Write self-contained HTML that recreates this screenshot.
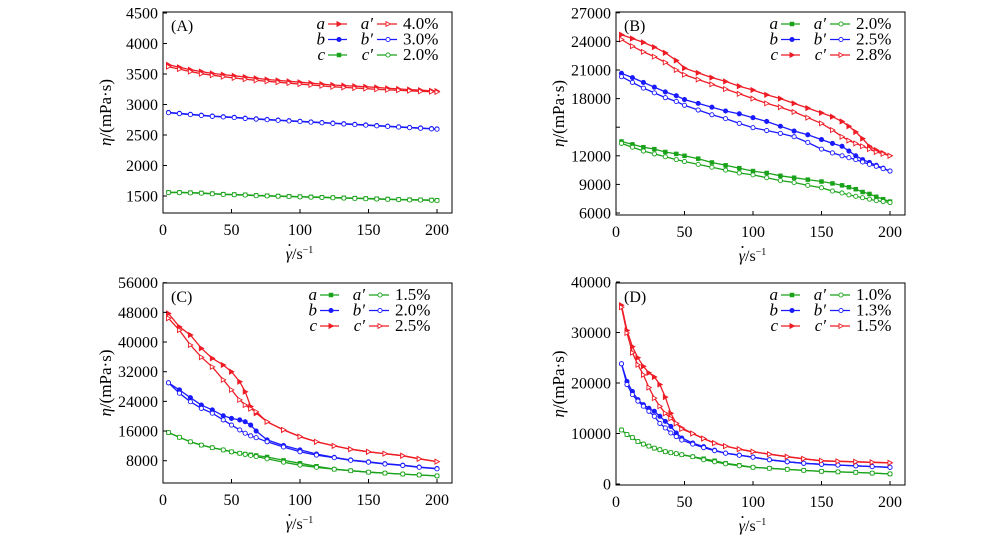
<!DOCTYPE html>
<html><head><meta charset="utf-8"><style>
html,body{margin:0;padding:0;background:#fff;}
svg{display:block;font-family:"Liberation Serif",serif;}
</style></head><body>
<svg id="fig" width="1000" height="540" viewBox="0 0 1000 540" xmlns="http://www.w3.org/2000/svg"></svg>
<script>
// ---- data ----
const xA = [4,12,20,28,36,44,52,60,68,76,84,92,100,108,116,124,132,140,148,156,164,172,180,188,196,200];
const A_a  = [3650,3610,3570,3540,3510,3490,3470,3450,3430,3410,3395,3380,3365,3350,3335,3320,3310,3300,3290,3280,3265,3255,3245,3235,3225,3220];
const A_a2 = [3620,3580,3540,3505,3480,3455,3435,3415,3395,3380,3365,3350,3335,3320,3305,3290,3280,3270,3260,3250,3240,3235,3225,3215,3210,3205];
const A_b  = [2870,2855,2840,2825,2810,2800,2790,2775,2765,2755,2745,2735,2725,2715,2705,2695,2685,2675,2665,2655,2645,2635,2625,2615,2605,2600];
const A_b2 = [2865,2850,2835,2820,2805,2795,2785,2770,2760,2750,2740,2730,2720,2710,2700,2690,2680,2670,2660,2650,2640,2630,2620,2610,2600,2595];
const A_c  = [1560,1560,1555,1550,1540,1530,1525,1520,1510,1505,1500,1495,1490,1485,1480,1475,1470,1465,1460,1455,1450,1445,1440,1438,1435,1430];
const A_c2 = [1555,1555,1550,1545,1535,1525,1520,1515,1505,1500,1495,1490,1485,1480,1475,1470,1465,1460,1455,1450,1445,1440,1435,1433,1430,1425];
const A_ticks = [1500,2000,2500,3000,3500,4000,4500];

const xB = [4,12,20,28,36,44,50,60,70,80,90,100,110,120,130,140,150,158,165,170,175,180,185,190,195,200];
const B_a  = [13500,13200,12900,12700,12400,12200,12000,11700,11300,11000,10700,10400,10200,9900,9700,9500,9300,9100,8900,8700,8500,8200,8000,7700,7450,7200];
const B_a2 = [13300,12900,12500,12200,11900,11600,11400,11100,10800,10500,10200,10000,9700,9400,9200,8900,8650,8300,8100,7900,7750,7600,7450,7300,7200,7100];
const B_b  = [20650,20200,19700,19200,18700,18300,17900,17500,17100,16700,16400,16000,15600,15100,14600,14200,13700,13300,13000,12500,12000,11600,11300,11000,10700,10400];
const B_b2 = [20300,19700,19100,18600,18100,17700,17300,16800,16300,15900,15400,14950,14650,14350,14000,13400,12700,12300,12000,11800,11600,11350,11100,10900,10650,10400];
const B_c  = [24700,24300,23900,23400,22800,22000,21200,20700,20200,19800,19300,18900,18400,18000,17500,17000,16500,16100,15600,15100,14500,13800,13000,12600,12300,12000];
const B_c2 = [24200,23500,22900,22400,21800,21000,20500,20000,19500,19000,18500,18000,17500,17100,16600,16000,15400,14700,14000,13600,13300,13000,12700,12400,12200,12000];
const B_ticks = [6000,9000,12000,15000,18000,21000,24000,27000];
const B_labels = [6000,9000,12000,18000,21000,24000,27000];

const xC = [4,12,20,28,36,44,50,56,60,64,68,76,88,100,112,125,137,150,162,175,187,200];
const C_a  = [15600,14300,13100,12200,11500,10900,10400,10000,9800,9600,9400,9000,8100,7300,6500,5700,5300,4900,4650,4400,4150,3900];
const C_a2 = [15600,14300,13100,12200,11500,10900,10400,10000,9700,9400,9100,8500,7600,6800,6200,5700,5300,4900,4650,4400,4150,3900];
const C_b  = [29000,27100,25000,23000,21700,20100,19400,19000,18500,17600,16000,13600,12100,10900,9800,8900,8200,7700,7200,6800,6300,5900];
const C_b2 = [29000,26200,23900,22100,20800,19000,17600,16300,15400,14700,14200,13100,11700,10400,9500,8800,8100,7600,7100,6700,6200,5800];
const C_c  = [47700,44100,41900,38300,35600,33800,32000,29300,26600,22600,20800,18500,16300,14500,13100,12000,11100,10400,9900,9350,8500,7750];
const C_c2 = [46400,43200,39200,35900,33300,29800,27100,24400,23000,22000,21200,18500,16300,14500,13100,12000,11100,10400,9900,9350,8500,7750];
const C_ticks = [8000,16000,24000,32000,40000,48000,56000];

const xD = [4,8,12,16,20,24,28,32,36,40,44,48,56,64,72,80,90,100,112,125,137,150,162,175,187,200];
const D_a  = [10700,9800,9200,8400,7900,7500,7100,6800,6400,6200,6000,5800,5400,5000,4600,4100,3700,3300,3100,2900,2700,2500,2400,2300,2150,2000];
const D_a2 = [10700,9800,9200,8400,7900,7500,7100,6800,6400,6200,6000,5800,5400,4800,4400,4000,3600,3300,3100,2900,2700,2500,2400,2300,2150,2000];
const D_b  = [23800,20300,18300,16700,15700,15000,14400,13400,12400,11400,10100,9100,8100,7400,6700,6100,5700,5300,4800,4400,4100,3900,3750,3600,3450,3300];
const D_b2 = [23800,19700,17700,16400,15400,14400,13400,12000,11100,10100,9400,8700,7900,7200,6600,6100,5700,5300,4800,4400,4100,3900,3750,3600,3450,3300];
const D_c  = [35400,30400,27200,25000,23300,22000,21200,19700,17200,14000,12000,11100,10000,9000,8100,7500,6900,6400,5900,5400,5000,4600,4500,4400,4300,4200];
const D_c2 = [35000,29900,26000,23600,21600,19100,17000,15400,14000,13000,12000,10900,10000,9000,8100,7500,6900,6400,5900,5400,5000,4600,4500,4400,4300,4200];
const D_ticks = [0,10000,20000,30000,40000];

const xTicks = [0,50,100,150,200];

const RED="#ee1c25", BLUE="#1a1aff", GREEN="#1aa31a";
const NS="http://www.w3.org/2000/svg";
const svg=document.getElementById('fig');
function mk(tag,attrs,parent){const e=document.createElementNS(NS,tag);for(const k in attrs)e.setAttribute(k,attrs[k]);(parent||svg).appendChild(e);return e;}

function marker(g,shape,filled,color,x,y){
  let m;
  const fill=filled?color:"#fff";
  if(shape==="sq") m=mk('rect',{x:x-1.8,y:y-1.8,width:3.6,height:3.6,fill:fill,stroke:color,'stroke-width':0.9},g);
  else if(shape==="ci") m=mk('circle',{cx:x,cy:y,r:2.1,fill:fill,stroke:color,'stroke-width':0.9},g);
  else m=mk('polygon',{points:`${x-2},${y-2.4} ${x+2.4},${y} ${x-2},${y+2.4}`,fill:fill,stroke:color,'stroke-width':0.9},g);
  return m;
}

function panel(p){
  const g=mk('g',{});
  
  
  const X=v=>p.L+(v-0)*p.xs;
  const Y=v=>p.y0px-(v-p.y0)*p.ys;
  p.series.forEach(s=>{
    const sg=mk('g',{},g);
    
    
    const pts=s.v.map((v,i)=>X(p.x[i]).toFixed(1)+','+Y(v).toFixed(1)).join(' ');
    const pl=mk('polyline',{points:pts,fill:'none',stroke:s.color,'stroke-width':1.3},sg);
    
    
    s.v.forEach((v,i)=>{
      const m=marker(sg,s.shape,s.filled,s.color,X(p.x[i]),Y(v));
      
      
    });
  });
  const fr=mk('rect',{x:p.L,y:p.T,width:p.R-p.L,height:p.B-p.T,fill:'none',stroke:'#000','stroke-width':1},g);
  
  
  p.yticks.forEach(v=>{
    mk('line',{x1:p.L,x2:p.L+4,y1:Y(v),y2:Y(v),stroke:'#000'},g);
  });
  p.ylabels.forEach(v=>{
    const t=mk('text',{x:p.L-5,y:Y(v)+5.5,'text-anchor':'end','font-size':16,fill:'#000'},g);
    t.textContent=v;
    
    
  });
  xTicks.forEach(v=>{
    mk('line',{x1:X(v),x2:X(v),y1:p.B,y2:p.B-4,stroke:'#000'},g);
    const t=mk('text',{x:X(v),y:p.B+22,'text-anchor':'middle','font-size':16,fill:'#000'},g);
    t.textContent=v;
    
    
  });
  const xc=(p.L+p.R)/2-8;
  const xt=mk('text',{x:xc,y:p.B+46,'text-anchor':'middle','font-size':16,fill:'#000'},g);
  xt.innerHTML='<tspan font-style="italic">γ</tspan>/s<tspan dy="-6" font-size="10">−1</tspan>';
  
  
  mk('circle',{cx:xc-10,cy:p.B+32,r:1,fill:'#000'},g);
  const cy=(p.T+p.B)/2;
  const yt=mk('text',{x:0,y:0,'text-anchor':'middle','font-size':17,fill:'#000',transform:`translate(${p.L-52},${cy}) rotate(-90)`},g);
  yt.innerHTML='<tspan font-style="italic">η</tspan>/(mPa·s)';
  
  
  const pl=mk('text',{x:p.L+8,y:p.T+19,'font-size':16,fill:'#000'},g);
  pl.textContent='('+p.id+')';
  
  
  const lg=mk('g',{},g);
  
  
  p.legend.forEach((r,i)=>{
    const y=p.T+12+i*15.5;
    const x0=p.R-p.legW;
    const t1=mk('text',{x:x0,y:y+5,'font-size':17,'font-style':'italic',fill:'#000','text-anchor':'end'},lg);
    t1.textContent=r.l;
    mk('line',{x1:x0+3,x2:x0+22,y1:y,y2:y,stroke:r.color,'stroke-width':1.3},lg);
    marker(lg,r.shape,true,r.color,x0+14,y);
    const t2=mk('text',{x:x0+48,y:y+5,'font-size':17,'font-style':'italic',fill:'#000','text-anchor':'end'},lg);
    t2.textContent=r.l+'′';
    mk('line',{x1:x0+52,x2:x0+72,y1:y,y2:y,stroke:r.color,'stroke-width':1.3},lg);
    marker(lg,r.shape2,false,r.color,x0+63,y);
    const t3=mk('text',{x:x0+78,y:y+5,'font-size':17,fill:'#000'},lg);
    t3.textContent=r.pct;
    
    
  });
}

const xs=274/200;
panel({id:'A',L:163,R:452,T:12,B:213,xs:xs,y0:1500,y0px:196,ys:30.5/500,x:xA,
  yticks:A_ticks,ylabels:A_ticks,legW:127,
  series:[{name:'a',v:A_a,color:RED,shape:'tri',filled:true},{name:'a-prime',v:A_a2,color:RED,shape:'tri',filled:false},
          {name:'b',v:A_b,color:BLUE,shape:'ci',filled:true},{name:'b-prime',v:A_b2,color:BLUE,shape:'ci',filled:false},
          {name:'c',v:A_c,color:GREEN,shape:'sq',filled:true},{name:'c-prime',v:A_c2,color:GREEN,shape:'ci',filled:false}],
  legend:[{l:'a',color:RED,shape:'tri',shape2:'tri',pct:'4.0%'},{l:'b',color:BLUE,shape:'ci',shape2:'ci',pct:'3.0%'},{l:'c',color:GREEN,shape:'sq',shape2:'ci',pct:'2.0%'}]});
panel({id:'B',L:616,R:905,T:12,B:215,xs:xs,y0:6000,y0px:213,ys:28.6/3000,x:xB,
  yticks:B_ticks,ylabels:B_labels,legW:127,
  series:[{name:'a',v:B_a,color:GREEN,shape:'sq',filled:true},{name:'a-prime',v:B_a2,color:GREEN,shape:'ci',filled:false},
          {name:'b',v:B_b,color:BLUE,shape:'ci',filled:true},{name:'b-prime',v:B_b2,color:BLUE,shape:'ci',filled:false},
          {name:'c',v:B_c,color:RED,shape:'tri',filled:true},{name:'c-prime',v:B_c2,color:RED,shape:'tri',filled:false}],
  legend:[{l:'a',color:GREEN,shape:'sq',shape2:'ci',pct:'2.0%'},{l:'b',color:BLUE,shape:'ci',shape2:'ci',pct:'2.5%'},{l:'c',color:RED,shape:'tri',shape2:'tri',pct:'2.8%'}]});
panel({id:'C',L:163,R:452,T:283,B:483,xs:xs,y0:8000,y0px:460.7,ys:29.67/8000,x:xC,
  yticks:C_ticks,ylabels:C_ticks,legW:135,
  series:[{name:'a',v:C_a,color:GREEN,shape:'sq',filled:true},{name:'a-prime',v:C_a2,color:GREEN,shape:'ci',filled:false},
          {name:'b',v:C_b,color:BLUE,shape:'ci',filled:true},{name:'b-prime',v:C_b2,color:BLUE,shape:'ci',filled:false},
          {name:'c',v:C_c,color:RED,shape:'tri',filled:true},{name:'c-prime',v:C_c2,color:RED,shape:'tri',filled:false}],
  legend:[{l:'a',color:GREEN,shape:'sq',shape2:'ci',pct:'1.5%'},{l:'b',color:BLUE,shape:'ci',shape2:'ci',pct:'2.0%'},{l:'c',color:RED,shape:'tri',shape2:'tri',pct:'2.5%'}]});
panel({id:'D',L:616,R:905,T:283,B:485,xs:xs,y0:0,y0px:484,ys:50.5/10000,x:xD,
  yticks:D_ticks,ylabels:D_ticks,legW:127,
  series:[{name:'a',v:D_a,color:GREEN,shape:'sq',filled:true},{name:'a-prime',v:D_a2,color:GREEN,shape:'ci',filled:false},
          {name:'b',v:D_b,color:BLUE,shape:'ci',filled:true},{name:'b-prime',v:D_b2,color:BLUE,shape:'ci',filled:false},
          {name:'c',v:D_c,color:RED,shape:'tri',filled:true},{name:'c-prime',v:D_c2,color:RED,shape:'tri',filled:false}],
  legend:[{l:'a',color:GREEN,shape:'sq',shape2:'ci',pct:'1.0%'},{l:'b',color:BLUE,shape:'ci',shape2:'ci',pct:'1.3%'},{l:'c',color:RED,shape:'tri',shape2:'tri',pct:'1.5%'}]});
</script>
</body></html>
